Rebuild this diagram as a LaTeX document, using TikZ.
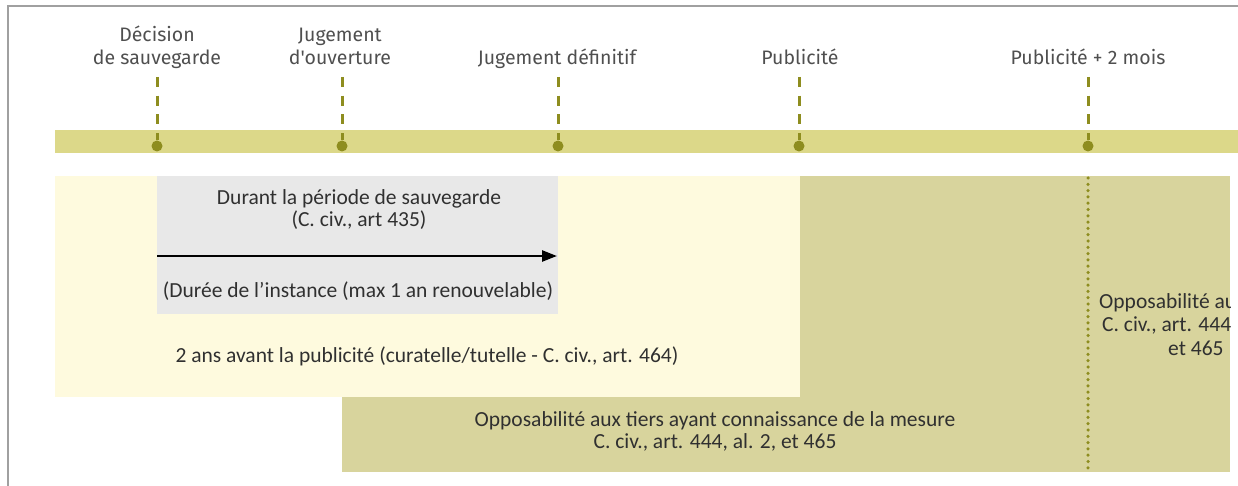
\documentclass[tikz,border=0pt]{standalone}
\usepackage{fontspec}
\setmainfont{Carlito}
\newfontfamily\titres{Fira Sans}
\usetikzlibrary{arrows.meta}

\definecolor{bande}{HTML}{DCD889}
\definecolor{olive}{HTML}{D8D49D}
\definecolor{creme}{HTML}{FEFADE}
\definecolor{grisclair}{HTML}{E8E8E8}
\definecolor{olivefonce}{HTML}{8E8D1F}
\definecolor{texte}{HTML}{303030}
\definecolor{cadre}{HTML}{A0A0A0}

\tikzset{
  hito/.style={font=\titres\fontsize{19.5}{23}\selectfont, text=texte!85, align=center, anchor=base, inner sep=0pt},
  punto/.style={circle, fill=olivefonce, inner sep=0pt, minimum size=11pt},
  guion/.style={olivefonce, line width=3pt, dash pattern=on 10pt off 8.7pt},
  nota/.style={font=\fontsize{21.5}{22}\selectfont, text=texte, align=center, inner sep=0pt, anchor=base},
}

\begin{document}
\begin{tikzpicture}[x=1pt,y=-1pt]
    \useasboundingbox (0,0) rectangle (1238,486);

    % zonas de fondo
    \fill[creme] (55,176) rectangle (800,397);
    \fill[olive] (800,176) rectangle (1230,472);
    \fill[olive] (342,397) rectangle (800,472);
    \fill[grisclair] (157,176) rectangle (558,314);
    \fill[bande] (55,130) rectangle (1238,153);

    \draw[cadre, line width=2.5pt] (8,486) -- (8,6) -- (1238,6);

    % hitos de la linea de tiempo
    \node[hito] (decision) at (157,65) {Décision\\de sauvegarde};
    \node[hito] (ouverture) at (340,65) {Jugement\\d'ouverture};
    \node[hito] (definitif) at (557,65) {Jugement définitif};
    \node[hito] (publicite) at (800,65) {Publicité};
    \node[hito] (deuxmois) at (1088,65) {Publicité + 2 mois};

    \coordinate (t1) at (157,77);
    \coordinate (t2) at (342,77);
    \coordinate (t3) at (558,77);
    \coordinate (t4) at (799,77);
    \coordinate (t5) at (1088,77);

    \node[punto] (p1) at (157,146) {};
    \node[punto] (p2) at (342,146) {};
    \node[punto] (p3) at (558,146) {};
    \node[punto] (p4) at (799,146) {};
    \node[punto] (p5) at (1088,146) {};

    \draw[guion] (t1) -- (p1);
    \draw[guion] (t2) -- (p2);
    \draw[guion] (t3) -- (p3);
    \draw[guion] (t4) -- (p4);
    \draw[guion] (t5) -- (p5);

    % periodo de salvaguarda
    \node[nota] (sauvegarde) at (359,227) {Durant la période de sauvegarde\\(C. civ., art 435)};
    \coordinate (a1) at (157,256);
    \coordinate (a2) at (557,256);
    \draw[line width=2.5pt, -{Triangle[length=15pt,width=11pt]}] (a1) -- (a2);
    \node[nota] (instance) at (358,297) {(Durée de l'instance (max 1 an renouvelable)};

    \node[nota] (deuxans) at (427,362) {2 ans avant la publicité (curatelle/tutelle - C. civ., art. 464)};

    \node[nota] (tiers) at (715,448) {Opposabilité aux tiers ayant connaissance de la mesure\\C. civ., art. 444, al. 2, et 465};

    % linea punteada y texto cortado a la derecha
    \coordinate (d1) at (1088,178);
    \coordinate (d2) at (1088,472);
    \draw[olivefonce, line width=3.5pt, line cap=round, dash pattern=on 0pt off 6.3pt] (d1) -- (d2);

    \begin{scope}
        \clip (1090,176) rectangle (1230,472);
        \node[nota, anchor=base west] (opp1) at (1099,308) {Opposabilité au};
        \node[nota, anchor=base west] (opp2) at (1102,331) {C. civ., art. 444};
        \node[nota, anchor=base west] (opp3) at (1168,355) {et 465};
    \end{scope}
\end{tikzpicture}
\end{document}
